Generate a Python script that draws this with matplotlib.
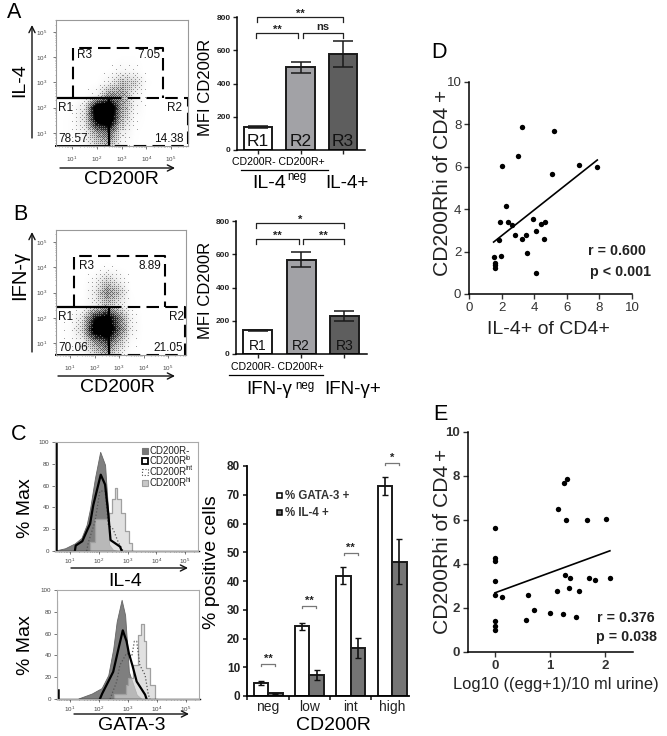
import numpy as np
import matplotlib
matplotlib.use('Agg')
import matplotlib.pyplot as plt
from matplotlib.patches import Rectangle

W, H = 667, 736
plt.rcParams['font.family'] = ['Liberation Sans', 'DejaVu Sans']
plt.rcParams['mathtext.default'] = 'regular'

# Panel A / B bar data
mfi_a = [140, 497, 578]
mfi_a_err = [5, 32, 77]
mfi_b = [142, 567, 226]
mfi_b_err = [5, 45, 30]
region_names = ['R1', 'R2', 'R3']
region_colors = ['white', '#a2a2a6', '#5e5e5e']

# Flow plot density, read by eye on half decade cells
dens_x = [0, 0.5, 1, 1.5, 2, 2.5, 3, 3.5, 4, 4.5, 5, 6]
dens_y = [0, 0.5, 1, 1.5, 2, 2.5, 3, 3.5, 4, 4.5, 6]
dens_a = [[0, 0, 0, 0, 0, 0, 0, 0, 0, 0, 0, 0],
          [0, 0, .03, .08, .25, .35, .08, .02, 0, 0, 0, 0],
          [0, .01, .04, .12, .4, .55, .15, .03, 0, 0, 0, 0],
          [0, .01, .04, .2, .85, .95, .3, .05, .01, 0, 0, 0],
          [0, 0, .03, .18, .95, 1, .4, .1, .01, 0, 0, 0],
          [0, 0, 0, .02, .1, .45, .4, .12, .01, 0, 0, 0],
          [0, 0, 0, 0, .02, .12, .3, .25, .03, 0, 0, 0],
          [0, 0, 0, 0, 0, .02, .08, .06, 0, 0, 0, 0],
          [0, 0, 0, 0, 0, 0, .02, .02, 0, 0, 0, 0],
          [0, 0, 0, 0, 0, 0, 0, 0, 0, 0, 0, 0],
          [0, 0, 0, 0, 0, 0, 0, 0, 0, 0, 0, 0]]
dens_b = [[0, 0, 0, 0, 0, 0, 0, 0, 0, 0, 0, 0],
          [0, 0, .02, .06, .2, .35, .12, .02, 0, 0, 0, 0],
          [0, .01, .04, .12, .4, .6, .3, .05, .01, 0, 0, 0],
          [0, .01, .05, .25, .9, 1, .55, .12, .01, 0, 0, 0],
          [0, .01, .04, .18, .7, .85, .5, .1, .01, 0, 0, 0],
          [0, 0, .01, .03, .12, .3, .15, .03, 0, 0, 0, 0],
          [0, 0, 0, .01, .15, .45, .3, .02, 0, 0, 0, 0],
          [0, 0, 0, .01, .08, .25, .12, .01, 0, 0, 0, 0],
          [0, 0, 0, 0, .01, .03, .02, 0, 0, 0, 0, 0],
          [0, 0, 0, 0, 0, 0, 0, 0, 0, 0, 0, 0],
          [0, 0, 0, 0, 0, 0, 0, 0, 0, 0, 0, 0]]

# Histograms, x in log10 units, y in % max
il4_neg_x = [0.5, 0.83, 1.17, 1.4, 1.58, 1.7, 1.87, 2.05, 2.22, 2.33, 2.36, 2.5, 2.7]
il4_neg_y = [0.5, 2.5, 7, 12, 24, 39, 67, 91, 79, 35, 6, 1, 0]
il4_lo_x = [1.17, 1.2, 1.43, 1.58, 1.7, 1.81, 1.93, 2.07, 2.22, 2.33, 2.41, 2.74, 2.8]
il4_lo_y = [0, 5, 9, 18, 25, 42, 55, 70, 61, 35, 10, 4, 0]
il4_int_x = [1.58, 1.64, 1.87, 2.04, 2.22, 2.33, 2.5, 2.68, 2.85]
il4_int_y = [0, 8, 27, 55, 55, 24, 20, 8, 0]
il4_hi_x = [1.64, 1.75, 1.98, 2.33, 2.39, 2.5, 2.6, 2.68, 2.85, 2.97, 3.12, 3.2]
il4_hi_y = [0, 8, 29, 29, 35, 48, 58, 48, 35, 18, 7, 0]
gata_neg_x = [1.29, 1.75, 2.09, 2.32, 2.49, 2.61, 2.78, 2.9, 2.98, 3.03, 3.3, 3.47]
gata_neg_y = [0.5, 5, 10, 22, 46, 71, 91, 77, 46, 25, 4, 0]
gata_lo_x = [2.03, 2.11, 2.32, 2.49, 2.67, 2.82, 2.95, 3.03, 3.15, 3.3, 3.59, 3.64]
gata_lo_y = [0, 5, 16, 25, 46, 63, 53, 42, 31, 16, 4, 0]
gata_int_x = [2.38, 2.61, 2.72, 2.95, 3.13, 3.22, 3.3, 3.41, 3.59, 3.7, 3.76]
gata_int_y = [0, 16, 31, 42, 39, 53, 53, 31, 22, 4, 0]
gata_hi_x = [2.49, 2.55, 2.9, 2.95, 3.07, 3.3, 3.39, 3.49, 3.59, 3.68, 3.87, 3.99]
gata_hi_y = [0, 5, 5, 13, 19, 31, 59, 69, 53, 28, 13, 0]

# Panel C bars
groups = ['neg', 'low', 'int', 'high']
gata3_pos = [4.5, 24.2, 41.8, 73]
gata3_err = [0.6, 1.3, 3, 3.2]
il4_pos = [0.9, 7.2, 16.8, 46.7]
il4_err = [0.2, 1.8, 3.5, 7.8]
star_levels = [11.1, 31.3, 49.8, 81]
star_marks = ['**', '**', '**', '*']

# Panel D scatter
d_x = [1.53, 1.62, 1.62, 1.6, 1.84, 1.94, 1.9, 2.02, 2.27, 2.39, 2.66, 2.82, 2.99, 3.27,
       3.27, 3.5, 3.54, 3.91, 4.11, 4.11, 4.4, 4.58, 4.68, 5.11, 5.24, 6.75, 7.83]
d_y = [1.74, 1.46, 1.38, 1.21, 2.54, 1.77, 3.39, 6.02, 4.14, 3.39, 3.24, 2.79, 6.5, 7.87,
       2.59, 2.79, 1.93, 3.53, 2.95, 0.99, 3.29, 2.59, 3.4, 5.67, 7.68, 6.07, 6.0]
d_line_x = [1.51, 7.87]
d_line_y = [2.45, 6.32]

# Panel E scatter
e_x = [0, 0, 0, 0, 0, 0, 0, 0, 0.12, 0.56, 0.6, 0.71, 1.0, 1.12, 1.15, 1.24, 1.26, 1.27,
       1.31, 1.29, 1.34, 1.37, 1.48, 1.53, 1.68, 1.71, 1.81, 2.01, 2.1]
e_y = [5.65, 4.26, 4.12, 3.23, 2.57, 1.42, 1.19, 0.98, 2.52, 1.47, 2.57, 1.92, 1.77, 2.79,
       6.5, 1.74, 7.66, 3.52, 7.85, 5.98, 2.93, 3.37, 1.6, 2.78, 6.0, 3.38, 3.29, 6.06, 3.38]
e_line_x = [0, 2.09]
e_line_y = [2.69, 4.6]

fig = plt.figure(figsize=(W / 100, H / 100), dpi=100)


def ax_px(x0, y0, x1, y1):
    # axes from pixel box, y measured from the top
    return fig.add_axes([x0 / W, 1 - y1 / H, (x1 - x0) / W, (y1 - y0) / H])


# overlay in pixels for loose text and arrows
ov = fig.add_axes([0, 0, 1, 1], zorder=20)
ov.set_xlim(0, W)
ov.set_ylim(H, 0)
ov.axis('off')
ov.patch.set_alpha(0)


def txt(x, y, s, size=10, **kw):
    kw.setdefault('ha', 'center')
    kw.setdefault('va', 'center')
    ov.text(x, y, s, fontsize=size, **kw)


def arrow(x0, y0, x1, y1):
    ov.annotate('', xy=(x1, y1), xytext=(x0, y0),
                arrowprops=dict(arrowstyle='->', lw=1.0, color='#111111', shrinkA=0, shrinkB=0,
                                mutation_scale=11))


def log_ticks(ax, axis, lo, hi):
    major = [1, 2, 3, 4, 5]
    minor = [n + np.log10(k) for n in range(0, 6) for k in range(2, 10)]
    minor = [m for m in minor if lo < m < hi]
    labels = ['$10^{%d}$' % m for m in major]
    if axis == 'x':
        ax.set_xticks(major, labels)
        ax.set_xticks(minor, minor=True)
    else:
        ax.set_yticks(major, labels)
        ax.set_yticks(minor, minor=True)


# ordered dither tile, gives the dot look of a flow plot from the density cells
bayer = np.array([[0, 32, 8, 40, 2, 34, 10, 42],
                  [48, 16, 56, 24, 50, 18, 58, 26],
                  [12, 44, 4, 36, 14, 46, 6, 38],
                  [60, 28, 52, 20, 62, 30, 54, 22],
                  [3, 35, 11, 43, 1, 33, 9, 41],
                  [51, 19, 59, 27, 49, 17, 57, 25],
                  [15, 47, 7, 39, 13, 45, 5, 37],
                  [63, 31, 55, 23, 61, 29, 53, 21]]) / 64 + 1 / 128


def dots_image(dens, box, xlim, ylim):
    nx, ny = box[2] - box[0], box[3] - box[1]
    xs = np.linspace(xlim[0], xlim[1], nx)
    ys = np.linspace(ylim[0], ylim[1], ny)
    cols = np.array([np.interp(xs, dens_x, row) for row in dens])
    grid = np.array([np.interp(ys, dens_y, cols[:, i]) for i in range(nx)]).T
    grid = np.clip(grid * 1.3, 0, 1) ** 1.35
    tile = np.tile(bayer, (ny // 8 + 1, nx // 8 + 1))[:ny, :nx]
    return 0.35 * (grid > tile) + 0.65 * grid


def flow_plot(box, xlim, ylim, dens, gx, gy):
    ax = ax_px(*box)
    ax.imshow(dots_image(dens, box, xlim, ylim), cmap='gray_r', vmin=0, vmax=1, origin='lower',
              interpolation='nearest', aspect='auto', extent=[*xlim, *ylim])
    ax.set_xlim(*xlim)
    ax.set_ylim(*ylim)
    log_ticks(ax, 'x', *xlim)
    log_ticks(ax, 'y', *ylim)
    ax.tick_params(which='major', length=2, width=0.5, labelsize=4.5, colors='#444444', pad=4)
    ax.tick_params(which='minor', length=1, width=0.4, colors='#777777')
    for s in ax.spines.values():
        s.set_color('#999999')
        s.set_linewidth(0.8)
    # gates
    left, vert, r3_l, r3_r, right = gx
    bot, horiz, top = gy
    dash = dict(color='black', lw=1.5, ls=(0, (6, 3)), clip_on=False)
    ax.plot([r3_l, r3_l, r3_r, r3_r], [horiz, top, top, horiz], **dash)
    ax.plot([vert, right, right, vert], [horiz, horiz, bot, bot], **dash)
    ax.plot([left, vert, vert], [horiz, horiz, bot], color='black', lw=1.6)
    ax.plot([left, vert], [bot, bot], color='black', lw=1.4, clip_on=False)
    return ax


def bar_plot(box, vals, errs, label_size, label_y, brackets):
    ax = ax_px(*box)
    ax.bar(range(3), vals, width=0.67, color=region_colors, edgecolor='#1a1a1a', linewidth=1.4)
    ax.errorbar(range(3), vals, yerr=errs, fmt='none', ecolor='#1a1a1a', elinewidth=1.1,
                capsize=7, capthick=1.1)
    for i, name in enumerate(region_names):
        ax.text(i, label_y, name, ha='center', va='center', fontsize=label_size, color='#111111')
    ax.set_xlim(-0.5, 2.52)
    ax.set_ylim(0, 800)
    ax.set_xticks(range(3), [''] * 3)
    ax.set_yticks([0, 200, 400, 600, 800])
    ax.tick_params(length=3, width=1, pad=1.5, colors='#222222')
    for lab in ax.get_yticklabels():
        lab.set_fontsize(6)
        lab.set_fontweight('bold')
    ax.spines[['top', 'right']].set_visible(False)
    ax.spines[['left', 'bottom']].set_linewidth(1.1)
    for x0, x1, y, mark in brackets:
        ax.plot([x0, x0, x1, x1], [y - 28, y, y, y - 28], color='#222222', lw=0.9, clip_on=False)
        off = 40 if mark == 'ns' else 18
        ax.text((x0 + x1) / 2, y + off, mark, ha='center', va='center', fontsize=8,
                fontweight='bold', color='#222222', clip_on=False)
    return ax


# Panel A
txt(14, 13, 'A', 15.5)
flow_plot((56, 20, 188, 146), (0.35, 5.69), (0.48, 5.48), dens_a,
          (0.35, 2.51, 1.03, 4.69, 5.67), (0.48, 2.38, 4.38))
arrow(32, 138, 32, 25)
arrow(60, 168, 175, 168)
txt(20, 80, 'IL-4', 14, rotation=90)
txt(121, 180, 'CD200R', 14)
for x, y, s in [(85, 55, 'R3'), (149, 55, '7.05'), (66, 108, 'R1'), (175, 108, 'R2'),
                (73, 139, '78.57'), (169, 139, '14.38')]:
    txt(x, y, s, 8.5, color='#111111')
bar_plot((237, 17, 365, 150), mfi_a, mfi_a_err, 12.5, 50,
         [(-0.03, 2.0, 800, '**'), (-0.05, 0.95, 702, '**'), (1.05, 2.0, 702, 'ns')])
txt(205, 87, 'MFI CD200R', 12, rotation=90)
txt(278, 162, 'CD200R- CD200R+', 7.6)
ov.plot([241, 328], [170, 170], color='black', lw=0.9)
txt(269, 184, 'IL-4', 14)
txt(297, 177, 'neg', 8.3)
txt(347, 184, 'IL-4+', 13.5)

# Panel B
txt(20, 215, 'B', 15.5)
flow_plot((56, 230, 186, 355), (0.43, 5.73), (0.525, 5.475), dens_b,
          (0.43, 2.59, 1.16, 4.88, 5.7), (0.525, 2.44, 4.45))
arrow(32, 352, 32, 232)
arrow(58, 376, 175, 376)
txt(20, 275, 'IFN-γ', 14.5, rotation=90)
txt(117, 387, 'CD200R', 14)
for x, y, s in [(87, 266, 'R3'), (150, 266, '8.89'), (66, 317, 'R1'), (176, 317, 'R2'),
                (73, 348, '70.06'), (168, 348, '21.05')]:
    txt(x, y, s, 8.5, color='#111111')
bar_plot((236, 221, 367, 354), mfi_b, mfi_b_err, 10, 48,
         [(-0.03, 2.0, 788, '*'), (-0.05, 0.95, 692, '**'), (1.05, 2.0, 692, '**')])
txt(206, 290, 'MFI CD200R', 12, rotation=90)
txt(277, 367, 'CD200R- CD200R+', 7.6)
ov.plot([229, 323], [375, 375], color='black', lw=0.9)
txt(269, 390, 'IFN-γ', 13.5)
txt(305, 386, 'neg', 8.3)
txt(353, 390, 'IFN-γ+', 13.5)


# Panel C histograms
def hist_plot(box, xlim, neg, lo, mid, hi, spike_top, grey_top=0):
    ax = ax_px(*box)
    ax.fill_between(neg[0], neg[1], color='#7f7f7f', edgecolor='#666666', lw=0.6)
    ax.fill_between(hi[0], hi[1], step='mid', color='#d4d4d4', alpha=0.68, lw=0)
    ax.step(hi[0], hi[1], where='mid', color='#a0a0a0', lw=0.9)
    ax.plot(mid[0], mid[1], color='#555555', lw=0.9, ls=':')
    ax.plot(lo[0], lo[1], color='black', lw=1.6)
    if grey_top:
        ax.plot([xlim[0] + 0.01] * 2, [0, grey_top], color='#888888', lw=0.8)
    ax.plot([xlim[0] + 0.03] * 2, [0, spike_top], color='black', lw=1.8)
    ax.plot([xlim[0], 5.5], [0, 0], color='black', lw=1.0, clip_on=False)
    ax.set_xlim(*xlim)
    ax.set_ylim(0, 100)
    log_ticks(ax, 'x', *xlim)
    ax.set_yticks([0, 20, 40, 60, 80, 100])
    ax.tick_params(which='major', length=2, width=0.5, labelsize=4.5, colors='#444444', pad=2)
    ax.tick_params(which='minor', length=1, width=0.4, colors='#777777')
    for s in ax.spines.values():
        s.set_color('#aaaaaa')
        s.set_linewidth(0.8)
    return ax


txt(19, 435, 'C', 15.5)
hist_plot((55, 442, 198, 551), (0.48, 5.45), (il4_neg_x, il4_neg_y), (il4_lo_x, il4_lo_y),
          (il4_int_x, il4_int_y), (il4_hi_x, il4_hi_y), 100)
hist_plot((57, 590, 199, 699), (0.55, 5.45), (gata_neg_x, gata_neg_y), (gata_lo_x, gata_lo_y),
          (gata_int_x, gata_int_y), (gata_hi_x, gata_hi_y), 8, grey_top=90)
arrow(71, 568, 188, 568)
arrow(74, 714, 189, 714)
txt(25, 508, '% Max', 14, rotation=90)
txt(25, 645, '% Max', 14, rotation=90)
txt(125, 582, 'IL-4', 14)
txt(132, 725, 'GATA-3', 14)

# histogram legend, superscripts as their own small text
leg_rows = [(451, '', '#777777', '#777777', '-', 0.8),
            (461, 'lo', 'white', 'black', '-', 1.3),
            (472, 'int', 'white', '#444444', ':', 0.8),
            (483, 'hi', '#c8c8c8', '#a0a0a0', '-', 0.8)]
for y, sup, fc, ec, ls, lw in leg_rows:
    ov.add_patch(Rectangle((142, y - 3), 6, 6, facecolor=fc, edgecolor=ec, ls=ls, lw=lw))
    txt(150, y, 'CD200R' if sup else 'CD200R-', 7, ha='left', color='#222222')
    if sup:
        txt(186, y - 3, sup, 4.8, ha='left', color='#222222')

# Panel C bars
ax = ax_px(247, 466, 409, 696)
pos = np.arange(4)
bw = 0.35
ax.bar(pos - bw / 2, gata3_pos, bw, color='white', edgecolor='#1a1a1a', linewidth=1.4)
ax.bar(pos + bw / 2, il4_pos, bw, color='#757575', edgecolor='#1a1a1a', linewidth=1.4)
ax.errorbar(pos - bw / 2, gata3_pos, yerr=gata3_err, fmt='none', ecolor='#111111',
            elinewidth=1.2, capsize=2, capthick=1)
ax.errorbar(pos + bw / 2, il4_pos, yerr=il4_err, fmt='none', ecolor='#111111',
            elinewidth=1.2, capsize=2, capthick=1)
ax.set_xlim(-0.51, 3.41)
ax.set_ylim(0, 80)
ax.set_xticks([-0.5, 0.5, 1.5, 2.5], [''] * 4)
ax.set_yticks(range(0, 81, 10))
ax.tick_params(length=3, width=1.2, pad=2, colors='#222222')
for lab in ax.get_yticklabels():
    lab.set_fontsize(8.5)
    lab.set_fontweight('bold')
ax.spines[['top', 'right']].set_visible(False)
ax.spines[['left', 'bottom']].set_linewidth(1.3)
for p, y, mark in zip(pos, star_levels, star_marks):
    ax.plot([p - 0.17, p - 0.17, p + 0.17, p + 0.17], [y - 0.7, y, y, y - 0.7], color='#777777',
            lw=0.9, clip_on=False)
    ax.text(p, y + 1.8, mark, ha='center', va='center', fontsize=8, fontweight='bold',
            color='#222222', clip_on=False)
    txt(268 + 41.3 * p, 707, groups[p], 10, color='#222222')
txt(333, 726, 'CD200R', 14)
txt(212, 562, '% positive cells', 14, rotation=90)
ov.add_patch(Rectangle((276.5, 493), 5, 5, facecolor='white', edgecolor='black', lw=1.1))
ov.add_patch(Rectangle((276.5, 510), 5, 5, facecolor='#757575', edgecolor='black', lw=1.1))
txt(285, 496, '% GATA-3 +', 8.3, ha='left', fontweight='bold', color='#333333')
txt(285, 513, '% IL-4 +', 8.3, ha='left', fontweight='bold', color='#333333')


# Panels D and E
def corr_plot(box, xs, ys, lx, ly, xlim, xticks, bold):
    ax = ax_px(*box)
    ax.scatter(xs, ys, s=15, color='black', zorder=3, linewidths=0, clip_on=False)
    ax.plot(lx, ly, color='black', lw=1.2)
    ax.set_xlim(*xlim)
    ax.set_ylim(0, 10)
    ax.set_xticks(xticks)
    ax.set_yticks([0, 2, 4, 6, 8, 10])
    ax.tick_params(length=3.5, width=1, pad=2, colors='#333333', labelsize=9.5)
    if bold:
        for lab in ax.get_xticklabels() + ax.get_yticklabels():
            lab.set_fontweight('bold')
    ax.spines[['top', 'right']].set_visible(False)
    ax.spines[['left', 'bottom']].set_linewidth(1.1)
    return ax


txt(439, 52, 'D', 15.5)
corr_plot((469, 82, 632, 294), d_x, d_y, d_line_x, d_line_y, (0, 10), [0, 2, 4, 6, 8, 10], False)
txt(548, 329, 'IL-4+ of CD4+', 14, color='#222222')
txt(442, 191, 'CD200Rhi of CD4', 15.2, rotation=90, color='#222222')
txt(441, 95, '+', 15, rotation=90, color='#222222')
txt(617, 251, 'r = 0.600', 10.3, fontweight='bold', color='#222222')
txt(620, 272, 'p < 0.001', 10.3, fontweight='bold', color='#222222')

txt(440, 415, 'E', 15.5)
corr_plot((468, 432, 633, 652), e_x, e_y, e_line_x, e_line_y, (-0.49, 2.51), [0, 1, 2], True)
txt(556, 685, 'Log10 ((egg+1)/10 ml urine)', 11.9, color='#222222')
txt(442, 549, 'CD200Rhi of CD4', 15.2, rotation=90, color='#222222')
txt(441, 454, '+', 15, rotation=90, color='#222222')
txt(626, 618, 'r = 0.376', 10.3, fontweight='bold', color='#222222')
txt(627, 637, 'p = 0.038', 10.3, fontweight='bold', color='#222222')

fig.savefig('out.png', dpi=100)
